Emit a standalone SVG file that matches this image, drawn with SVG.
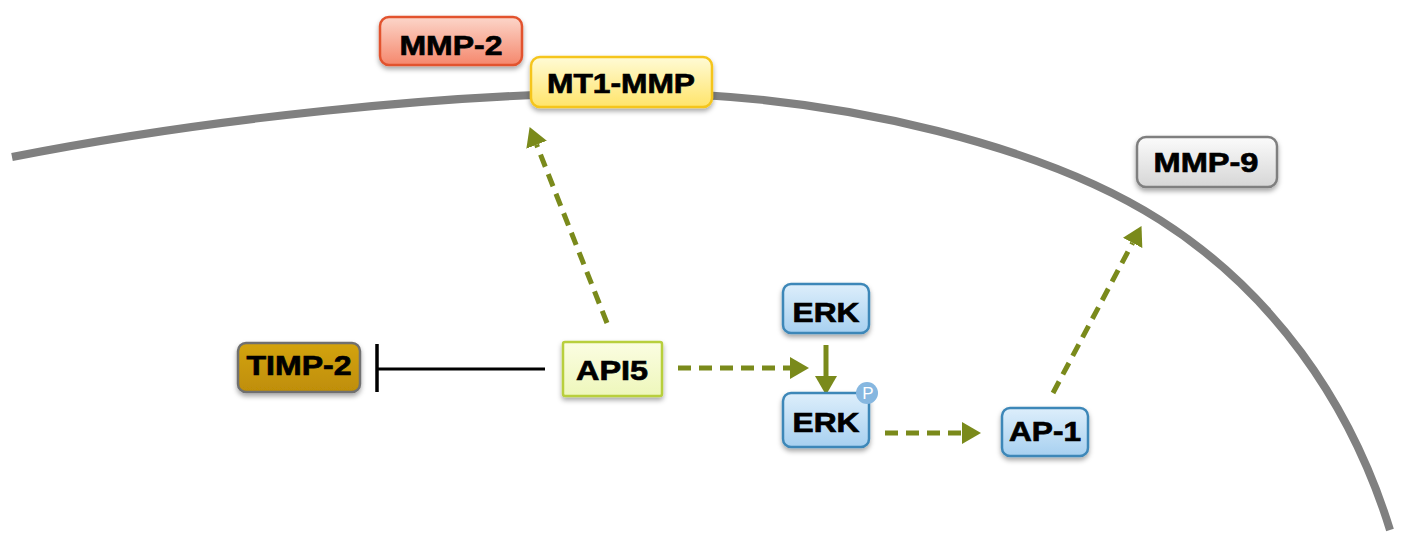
<svg xmlns="http://www.w3.org/2000/svg" width="1401" height="534" viewBox="0 0 1401 534">
  <style>
    .lbl { font-family: "Liberation Sans", Arial, sans-serif; font-weight: bold; font-size: 28px; fill: #000; stroke: #000; stroke-width: 0.7; text-anchor: middle; }
    .box { stroke-width: 2.5; filter: url(#shadow); }
    .act { fill: none; stroke: #7a8a1b; stroke-width: 5; stroke-dasharray: 13 8; }
    .solid { fill: none; stroke: #7a8a1b; stroke-width: 5; }
  </style>
  <defs>
    <filter id="shadow" x="-20%" y="-20%" width="140%" height="160%">
      <feDropShadow dx="0" dy="3" stdDeviation="2.5" flood-color="#000" flood-opacity="0.35"/>
    </filter>
    <linearGradient id="gRed" x1="0" y1="0" x2="0" y2="1">
      <stop offset="0" stop-color="#fcd6ca"/>
      <stop offset="1" stop-color="#f5876c"/>
    </linearGradient>
    <linearGradient id="gYellow" x1="0" y1="0" x2="0" y2="1">
      <stop offset="0" stop-color="#fffbd6"/>
      <stop offset="1" stop-color="#ffe46a"/>
    </linearGradient>
    <linearGradient id="gGray" x1="0" y1="0" x2="0" y2="1">
      <stop offset="0" stop-color="#fbfbfb"/>
      <stop offset="1" stop-color="#d6d6d6"/>
    </linearGradient>
    <linearGradient id="gGold" x1="0" y1="0" x2="0" y2="1">
      <stop offset="0" stop-color="#d3a310"/>
      <stop offset="1" stop-color="#bf8e06"/>
    </linearGradient>
    <linearGradient id="gLime" x1="0" y1="0" x2="0" y2="1">
      <stop offset="0" stop-color="#fbfde2"/>
      <stop offset="1" stop-color="#eef7bb"/>
    </linearGradient>
    <linearGradient id="gBlue" x1="0" y1="0" x2="0" y2="1">
      <stop offset="0" stop-color="#ddeefb"/>
      <stop offset="1" stop-color="#a7d0f0"/>
    </linearGradient>
    <marker id="head" markerUnits="userSpaceOnUse" markerWidth="20" markerHeight="22" refX="0" refY="11" orient="auto">
      <path d="M0,0 L19,11 L0,22 z" fill="#7a8a1b"/>
    </marker>
  </defs>

  <!-- cell membrane -->
  <path d="M12,157 C200,120 450,92 640,93 C850,95 1050,150 1160,220 C1270,290 1350,400 1390,530" fill="none" stroke="#808080" stroke-width="8"/>

  <!-- connectors -->
  <g id="connectors">
    <path class="act" d="M607,323 L536.6,144.7" marker-end="url(#head)"/>
    <path class="act" d="M678,368 L790,368" marker-end="url(#head)"/>
    <path class="solid" d="M826,345 L826,376" marker-end="url(#head)"/>
    <path class="act" d="M885,433 L962,433" marker-end="url(#head)"/>
    <path class="act" d="M1053,393 L1132.6,242.9" marker-end="url(#head)"/>
    <!-- inhibition of TIMP-2 -->
    <line x1="377" y1="369" x2="545" y2="369" stroke="#000" stroke-width="3"/>
    <line x1="377" y1="344" x2="377" y2="392" stroke="#000" stroke-width="3.5"/>
  </g>

  <g id="mmp2">
    <rect class="box" x="380" y="17" width="142" height="48" rx="9" fill="url(#gRed)" stroke="#e2532f"/>
    <text class="lbl" x="451" y="55" textLength="103" lengthAdjust="spacingAndGlyphs">MMP-2</text>
  </g>
  <g id="mt1mmp">
    <rect class="box" x="531" y="57" width="181" height="50" rx="9" fill="url(#gYellow)" stroke="#f5c51a"/>
    <text class="lbl" x="621" y="93" textLength="148" lengthAdjust="spacingAndGlyphs">MT1-MMP</text>
  </g>
  <g id="mmp9">
    <rect class="box" x="1137" y="137" width="140" height="50" rx="9" fill="url(#gGray)" stroke="#7f7f7f"/>
    <text class="lbl" x="1206" y="172" textLength="105" lengthAdjust="spacingAndGlyphs">MMP-9</text>
  </g>
  <g id="timp2">
    <rect class="box" x="238" y="343" width="122" height="49" rx="8" fill="url(#gGold)" stroke="#707070"/>
    <text class="lbl" x="299" y="375" textLength="105" lengthAdjust="spacingAndGlyphs">TIMP-2</text>
  </g>
  <g id="api5">
    <rect class="box" x="563" y="342" width="99" height="54" rx="2" fill="url(#gLime)" stroke="#b8cf3e"/>
    <text class="lbl" x="612" y="380" font-size="30" textLength="72" lengthAdjust="spacingAndGlyphs">API5</text>
  </g>
  <g id="erk">
    <rect class="box" x="783" y="284" width="86" height="49" rx="8" fill="url(#gBlue)" stroke="#3d87b8"/>
    <text class="lbl" x="826" y="322" textLength="67" lengthAdjust="spacingAndGlyphs">ERK</text>
  </g>
  <g id="perk">
    <rect class="box" x="783" y="393" width="86" height="54" rx="8" fill="url(#gBlue)" stroke="#3d87b8"/>
    <text class="lbl" x="826" y="432" textLength="67" lengthAdjust="spacingAndGlyphs">ERK</text>
    <circle cx="867" cy="393" r="11" fill="#86b7e0"/>
    <text x="868" y="399" font-family="Liberation Sans, Arial, sans-serif" font-size="17" fill="#fff" text-anchor="middle">P</text>
  </g>
  <g id="ap1">
    <rect class="box" x="1002" y="408" width="86" height="48" rx="8" fill="url(#gBlue)" stroke="#3d87b8"/>
    <text class="lbl" x="1045" y="441" textLength="72" lengthAdjust="spacingAndGlyphs">AP-1</text>
  </g>
</svg>
